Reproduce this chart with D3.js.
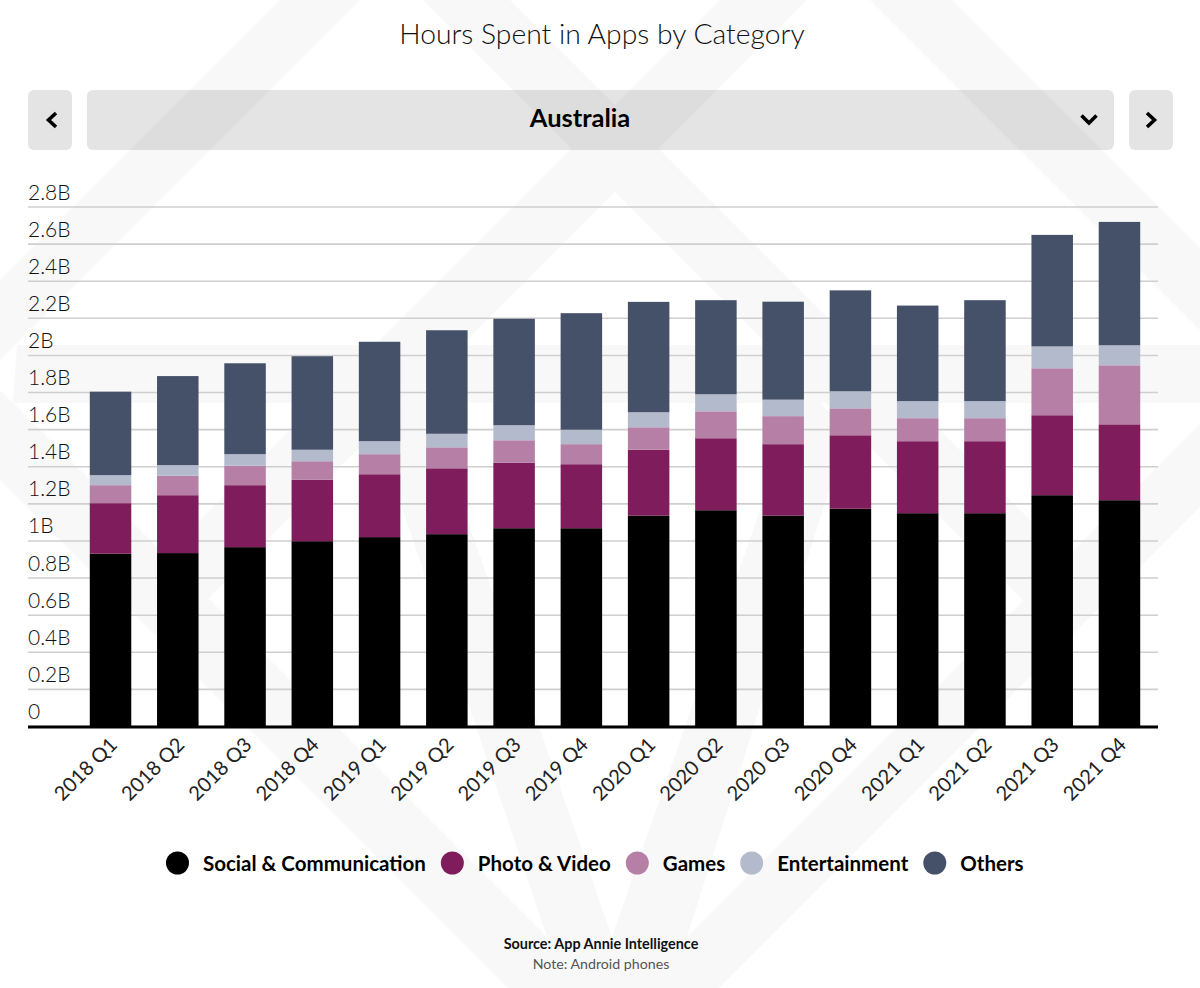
<!DOCTYPE html>
<html>
<head>
<meta charset="utf-8">
<script src="https://cdnjs.cloudflare.com/ajax/libs/d3/7.8.5/d3.min.js"></script>
<style>
  html, body { margin: 0; padding: 0; background: #fff; }
  svg { display: block; font-family: Lato, "Open Sans", sans-serif; }
</style>
</head>
<body>
<svg id="chart" width="1200" height="988"></svg>
<script>
// values in billions of hours
const quarters = ["2018 Q1","2018 Q2","2018 Q3","2018 Q4","2019 Q1","2019 Q2","2019 Q3","2019 Q4",
                  "2020 Q1","2020 Q2","2020 Q3","2020 Q4","2021 Q1","2021 Q2","2021 Q3","2021 Q4"];
const categories = ["Social & Communication","Photo & Video","Games","Entertainment","Others"];
const social = [.929,.932,.964,.996,1.018,1.034,1.066,1.066,1.134,1.163,1.134,1.171,1.147,1.147,1.244,1.217];
const photo = [.272,.312,.334,.331,.339,.355,.353,.345,.355,.388,.385,.396,.388,.388,.431,.409];
const games = [.097,.105,.105,.100,.108,.113,.121,.108,.121,.145,.151,.145,.124,.124,.253,.318];
const entertainment = [.054,.057,.062,.062,.070,.073,.081,.078,.081,.092,.089,.092,.092,.092,.118,.108];
const others = [.450,.480,.490,.504,.536,.558,.574,.628,.595,.507,.528,.544,.515,.544,.601,.665];
const yTicks = [0,.2,.4,.6,.8,1,1.2,1.4,1.6,1.8,2,2.2,2.4,2.6,2.8];
const colors = ["#000000","#7f1d5c","#b57fa6","#b3bacb","#455168"];

const svg = d3.select("#chart");

// faint logo behind everything
const watermark = [
    [[280,0],[360,0],[17,343],[0,360],[0,280]],
    [[17,345],[1200,345],[1200,403],[13,403]],
    [[423,0],[510,0],[1108,598],[1065,642]],
    [[720,0],[807,0],[208,599],[165,555]],
    [[870,0],[952,0],[1200,248],[1200,330]],
    [[13,403],[547,937],[600,988],[508,988],[0,480],[0,390]],
    [[1200,424],[1200,507],[719,988],[612,988],[687,937]],
    [[376,431],[421,386],[612,937],[547,937]],
    [[803,386],[848,431],[687,937],[612,937]],
    [[547,937],[687,937],[719,988],[508,988]]
];
svg.append("g").selectAll("polygon").data(watermark).join("polygon")
    .attr("points", d => d.join(" "))
    .attr("fill", "#f8f8f8");

svg.append("text").attr("x", 602).attr("y", 44).attr("text-anchor", "middle")
    .attr("font-size", 28.3).attr("font-weight", 300).attr("fill", "#111")
    .text("Hours Spent in Apps by Category");

// selector bar
const controls = svg.append("g");
controls.selectAll("rect").data([[28,44],[87,1027],[1129,44]]).join("rect")
    .attr("x", d => d[0]).attr("y", 90).attr("width", d => d[1]).attr("height", 60).attr("rx", 6)
    .attr("fill", "#000").attr("fill-opacity", .105);
controls.selectAll("path").data(["M56,113L48.5,120L56,127","M1147,113L1154.5,120L1147,127","M1081.5,115.5L1089,123L1096.5,115.5"]).join("path")
    .attr("d", d => d).attr("fill", "none").attr("stroke", "#000").attr("stroke-width", 3.6);
controls.append("text").attr("x", 580).attr("y", 127).attr("text-anchor", "middle")
    .attr("font-size", 25.5).attr("font-weight", 700).attr("fill", "#000").text("Australia");

const x = d3.scaleBand().domain(quarters).range([77, 1153]).paddingInner(.383).paddingOuter(.19);
const y = d3.scaleLinear().domain([0, 2.8]).range([726, 206.5]);

const yAxis = svg.append("g").attr("transform", "translate(28,0)")
    .call(d3.axisRight(y).tickValues(yTicks).tickSize(1130).tickFormat(d => d === 0 ? "0" : d3.format(".2~f")(d) + "B"));
yAxis.select(".domain").remove();
yAxis.selectAll("line").attr("stroke", "#cfcfcf").attr("stroke-width", 1.6);
yAxis.selectAll("text").attr("x", 0).attr("dy", -7.5).attr("text-anchor", "start")
    .attr("font-family", "Lato").attr("font-size", 21).attr("font-weight", 300).attr("fill", "#111");

const rows = quarters.map((q, i) => ({ q, a: social[i], b: photo[i], c: games[i], d: entertainment[i], e: others[i] }));
const stacked = d3.stack().keys(["a","b","c","d","e"])(rows);

svg.append("g").selectAll("g").data(stacked).join("g")
    .attr("fill", (d, i) => colors[i])
    .selectAll("rect").data(d => d).join("rect")
    .attr("x", d => x(d.data.q))
    .attr("width", x.bandwidth())
    .attr("y", d => y(d[1]))
    .attr("height", d => y(d[0]) - y(d[1]));

const xAxis = svg.append("g").attr("transform", "translate(0,726)")
    .call(d3.axisBottom(x).tickSize(0));
xAxis.select(".domain").attr("stroke", "#000").attr("stroke-width", 3).attr("d", "M28,1H1158");
xAxis.selectAll("text")
    .attr("font-family", "Lato").attr("font-size", 20).attr("font-weight", 400).attr("fill", "#222")
    .attr("text-anchor", "end").attr("dy", 0).attr("y", 0)
    .attr("transform", "translate(8,20) rotate(-45)");

// legend, laid out left to right from measured text
const legend = svg.append("g").attr("transform", "translate(0,863)");
let cursor = 166;
categories.forEach((name, i) => {
    legend.append("circle").attr("cx", cursor + 11.5).attr("r", 11.5).attr("fill", colors[i]);
    const label = legend.append("text").attr("x", cursor + 37).attr("y", 7.5)
        .attr("font-size", 20.5).attr("font-weight", 700).attr("fill", "#000").text(name);
    cursor += 37 + label.node().getComputedTextLength() + 15;
});

svg.append("text").attr("x", 601).attr("y", 949).attr("text-anchor", "middle")
    .attr("font-size", 14.4).attr("font-weight", 700).attr("fill", "#111").text("Source: App Annie Intelligence");
svg.append("text").attr("x", 601).attr("y", 969).attr("text-anchor", "middle")
    .attr("font-size", 14.2).attr("font-weight", 400).attr("fill", "#555").text("Note: Android phones");
</script>
</body>
</html>
